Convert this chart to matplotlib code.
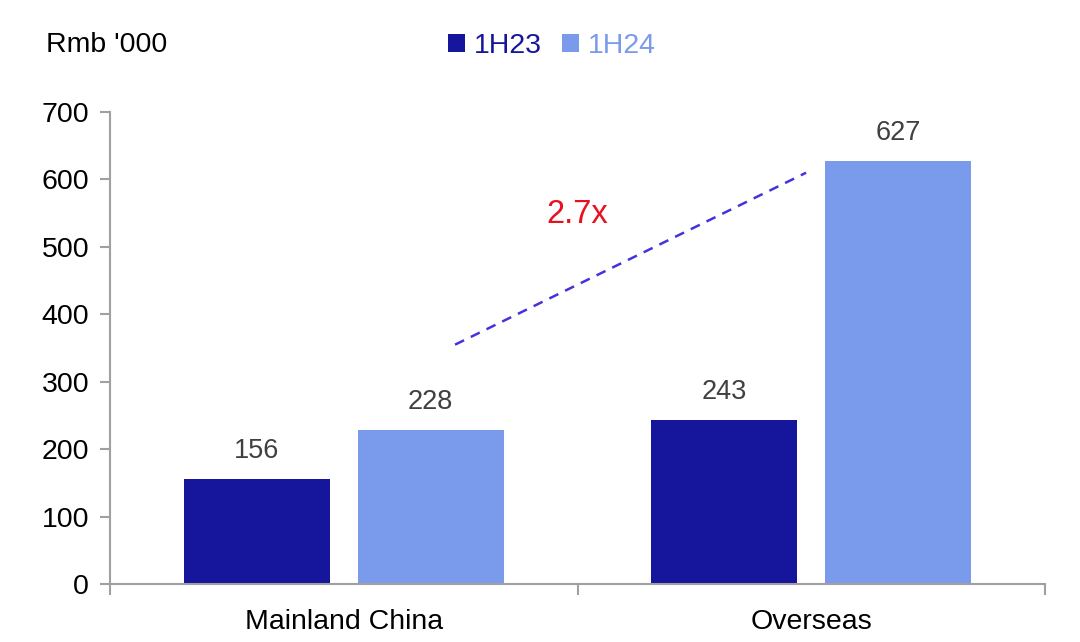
import matplotlib
matplotlib.use("Agg")
import matplotlib.pyplot as plt
import numpy as np

categories = ["Mainland China", "Overseas"]
series_names = ["1H23", "1H24"]
values_1h23 = [156, 243]
values_1h24 = [228, 627]
y_ticks = [0, 100, 200, 300, 400, 500, 600, 700]
annotation = "2.7x"

plt.rcParams['font.family'] = ['Liberation Sans', 'DejaVu Sans']

fig = plt.figure(figsize=(10.8, 6.42), dpi=100)
ax = fig.add_axes([0.1019, 0.0903, 0.8657, 0.7352])

c1 = "#16169C"
c2 = "#7A9BEC"
x = np.arange(len(categories))
w = 0.3125
off = 0.186
b1 = ax.bar(x - off, values_1h23, w, color=c1, label=series_names[0], zorder=2)
b2 = ax.bar(x + off, values_1h24, w, color=c2, label=series_names[1], zorder=2)

for bars, vals in ((b1, values_1h23), (b2, values_1h24)):
    for r, v in zip(bars, vals):
        ax.text(r.get_x() + r.get_width() / 2, v + 22, f"{v}", ha="center", va="bottom",
                fontsize=19.5, color="#404040")

ax.set_xlim(-0.5, 1.5)
ax.set_ylim(0, 700)
ax.set_yticks(y_ticks)
ax.set_yticklabels([str(t) for t in y_ticks], fontsize=20.5)
ax.set_xticks(x)
ax.set_xticklabels(categories, fontsize=20.5)
ax.tick_params(axis="x", length=0, pad=18)
ax.set_xticks([-0.5, 0.5, 1.5], minor=True)
ax.tick_params(axis="x", which="minor", length=8, color="#A0A0A0", width=1.5)
ax.tick_params(axis="y", length=7, color="#A0A0A0", width=1.5, pad=8)

for s in ("top", "right"):
    ax.spines[s].set_visible(False)
for s in ("left", "bottom"):
    ax.spines[s].set_color("#A0A0A0")
    ax.spines[s].set_linewidth(1.5)

# dashed growth line
ax.plot([0.238, 0.989], [355, 610], linestyle=(0, (4, 3)), color="#4433DD", lw=1.8, zorder=3)
ax.text(0.50, 548, annotation, color="#E8101E", fontsize=23.5, ha="center", va="center")

fig.text(0.043, 0.93, "Rmb '000", fontsize=20.5, ha="left", va="center")
leg = fig.legend(handles=[b1, b2], labels=series_names, loc="center", bbox_to_anchor=(0.511, 0.928),
                 ncol=2, frameon=False, fontsize=20.5, handlelength=0.6, handleheight=0.6,
                 handletextpad=0.3, columnspacing=0.7)
for t, c in zip(leg.get_texts(), (c1, c2)):
    t.set_color(c)

fig.savefig("out.png", dpi=100, facecolor="white")
